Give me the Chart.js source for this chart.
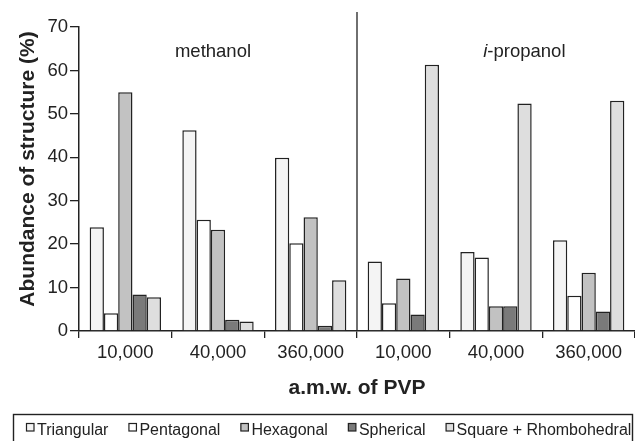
<!DOCTYPE html>
<html>
<head>
<meta charset="utf-8">
<script src="https://cdn.jsdelivr.net/npm/chart.js@4/dist/chart.umd.min.js"></script>
<style>
  html, body { margin: 0; padding: 0; background: #fff; }
  #wrap { width: 635px; height: 441px; }
</style>
</head>
<body>
<div id="wrap"><canvas id="abundanceChart" width="635" height="441"></canvas></div>
<script>
const categories = ['10,000', '40,000', '360,000', '10,000', '40,000', '360,000'];
const panelNames = ['methanol', 'i-propanol'];

const triangular = [23.9, 46.2, 39.9, 16.0, 18.2, 20.9];
const pentagonal = [4.1, 25.6, 20.2, 6.4, 16.9, 8.1];
const hexagonal = [55.0, 23.3, 26.2, 12.1, 5.7, 13.4];
const spherical = [8.4, 2.6, 1.2, 3.8, 5.7, 4.5];
const squareRhombo = [7.8, 2.2, 11.7, 61.3, 52.4, 53.0];

const yTicks = [0, 10, 20, 30, 40, 50, 60, 70];
const yTitle = 'Abundance of structure (%)';

const ink = '#222';
const fontFamily = '"Liberation Sans", Arial, Helvetica, sans-serif';

function makeSet(label, data, fill) {
    return {
        label: label,
        data: data,
        backgroundColor: fill,
        borderColor: ink,
        borderWidth: 1.5,
        borderSkipped: 'bottom',
        categoryPercentage: 0.77,
        barPercentage: 1.0
    };
}

// panel divider + solvent names + y title (sits a bit above the axis centre)
const panelPlugin = {
    id: 'panels',
    afterDatasetsDraw(chart) {
        const ctx = chart.ctx;
        const x = chart.scales.x;
        const y = chart.scales.y;
        const area = chart.chartArea;
        const divX = (x.getPixelForValue(2) + x.getPixelForValue(3)) / 2;

        ctx.save();
        ctx.strokeStyle = ink;
        ctx.lineWidth = 1.3;
        ctx.beginPath();
        ctx.moveTo(divX, 12);
        ctx.lineTo(divX, area.bottom);
        ctx.stroke();

        const ty = y.getPixelForValue(64.3);
        ctx.fillStyle = ink;
        ctx.textBaseline = 'middle';
        ctx.font = '18.5px ' + fontFamily;
        ctx.textAlign = 'center';
        ctx.fillText(panelNames[0], area.left + (area.right - area.left) * 0.241, ty);

        // i-propanol, with the i in italics
        const cx = area.left + (area.right - area.left) * 0.801;
        const head = panelNames[1].slice(0, 1);
        const tail = panelNames[1].slice(1);
        ctx.font = 'italic 18.5px ' + fontFamily;
        const wHead = ctx.measureText(head).width;
        ctx.font = '18.5px ' + fontFamily;
        const wTail = ctx.measureText(tail).width;
        const start = cx - (wHead + wTail) / 2;
        ctx.textAlign = 'left';
        ctx.font = 'italic 18.5px ' + fontFamily;
        ctx.fillText(head, start, ty);
        ctx.font = '18.5px ' + fontFamily;
        ctx.fillText(tail, start + wHead, ty);

        ctx.translate(28, y.getPixelForValue(37.3));
        ctx.rotate(-Math.PI / 2);
        ctx.textAlign = 'center';
        ctx.font = 'bold 21px ' + fontFamily;
        ctx.fillText(yTitle, 0, 0);
        ctx.restore();
    }
};

// boxed legend along the bottom, built from the datasets
const boxLegend = {
    id: 'boxLegend',
    afterDraw(chart) {
        const ctx = chart.ctx;
        const top = 414.5;
        ctx.save();
        ctx.strokeStyle = ink;
        ctx.lineWidth = 1.4;
        ctx.strokeRect(13.5, top, 619, 40);

        ctx.font = '16px ' + fontFamily;
        ctx.textBaseline = 'alphabetic';
        ctx.textAlign = 'left';
        let xPos = 26;
        chart.data.datasets.forEach(ds => {
            ctx.fillStyle = ds.backgroundColor;
            ctx.fillRect(xPos, 423, 8, 8);
            ctx.strokeStyle = ink;
            ctx.lineWidth = 1.2;
            ctx.strokeRect(xPos + 0.5, 423.5, 7.5, 7.5);
            ctx.fillStyle = ink;
            ctx.fillText(ds.label, xPos + 11, 435);
            xPos += 11 + ctx.measureText(ds.label).width + 20;
        });
        ctx.restore();
    }
};

const ctx = document.getElementById('abundanceChart').getContext('2d');
const chart = new Chart(ctx, {
    type: 'bar',
    data: {
        labels: categories,
        datasets: [
            makeSet('Triangular', triangular, '#f4f4f4'),
            makeSet('Pentagonal', pentagonal, '#ffffff'),
            makeSet('Hexagonal', hexagonal, '#c2c2c2'),
            makeSet('Spherical', spherical, '#7a7a7a'),
            makeSet('Square + Rhombohedral', squareRhombo, '#dedede')
        ]
    },
    options: {
        responsive: false,
        animation: false,
        devicePixelRatio: 1,
        layout: { padding: { top: 27, left: 0, right: 0, bottom: 38 } },
        scales: {
            x: {
                grid: {
                    display: true,
                    offset: true,
                    drawOnChartArea: false,
                    drawTicks: true,
                    tickLength: 7,
                    color: ink,
                    lineWidth: 1.3
                },
                border: { display: true, color: ink, width: 1.5 },
                ticks: {
                    color: ink,
                    font: { family: fontFamily, size: 18.5 },
                    padding: 4,
                    maxRotation: 0,
                    autoSkip: false
                },
                title: {
                    display: true,
                    text: 'a.m.w. of PVP',
                    color: ink,
                    font: { family: fontFamily, size: 21, weight: 'bold' },
                    padding: { top: 0, bottom: 2 }
                },
                afterFit(scale) { scale.height = 72; }
            },
            y: {
                min: 0,
                max: 70,
                afterBuildTicks(scale) {
                    scale.ticks = yTicks.map(v => ({ value: v }));
                },
                grid: {
                    display: true,
                    drawOnChartArea: false,
                    drawTicks: true,
                    tickLength: 9,
                    color: ink,
                    lineWidth: 1.3
                },
                border: { display: true, color: ink, width: 1.5 },
                ticks: {
                    color: ink,
                    font: { family: fontFamily, size: 18.5 },
                    padding: 2
                },
                title: { display: false },
                afterFit(scale) { scale.width = 79; }
            }
        },
        plugins: {
            legend: { display: false },
            tooltip: { enabled: false }
        }
    },
    plugins: [panelPlugin, boxLegend]
});
</script>
</body>
</html>
